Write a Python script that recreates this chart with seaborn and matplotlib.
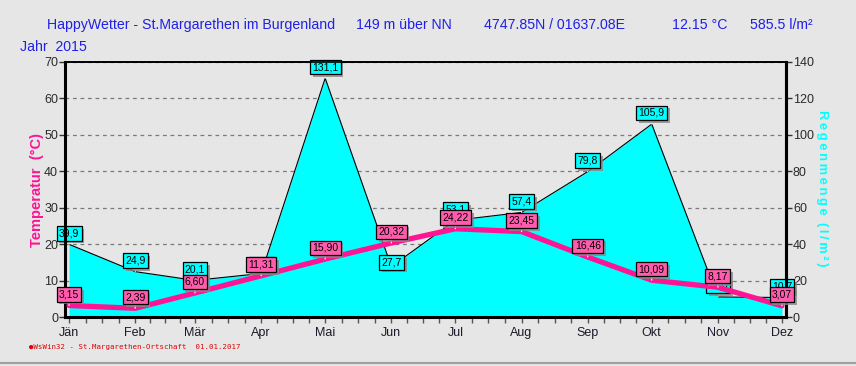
import matplotlib
matplotlib.use("Agg")
import matplotlib.pyplot as plt
import matplotlib.patheffects as pe
import pandas as pd
import seaborn as sns

# monthly values 2015
months = ["Jän", "Feb", "Mär", "Apr", "Mai", "Jun", "Jul", "Aug", "Sep", "Okt", "Nov", "Dez"]
month_day = [0, 31, 59, 90, 120, 151, 181, 212, 243, 273, 304, 334]
temperature = [3.15, 2.39, 6.60, 11.31, 15.90, 20.32, 24.22, 23.45, 16.46, 10.09, 8.17, 3.07]
rain = [39.9, 24.9, 20.1, 23.9, 131.1, 27.7, 53.1, 57.4, 79.8, 105.9, 11.0, 10.7]

BG = "#e6e6e6"
PINK = "#ff1493"
CYAN = "#00ffff"
BLUE = "#1f1fe6"
W, H = 856, 366

sns.set_theme(style="white")
plt.rcParams["font.family"] = ["Liberation Sans", "DejaVu Sans"]

df = pd.DataFrame({"day": month_day, "temp": temperature, "rain": rain})

fig = plt.figure(figsize=(W / 100, H / 100), dpi=100, facecolor=BG)
ax = fig.add_axes([65 / W, 1 - 317 / H, (786 - 65) / W, (317 - 62) / H])
ax2 = ax.twinx()
ax.set_zorder(ax2.get_zorder() + 1)
ax.patch.set_visible(False)
ax2.patch.set_facecolor(BG)

# rain area (right axis), behind
ax2.fill_between(df["day"], 0, df["rain"], color=CYAN, lw=0, zorder=2)
sns.lineplot(data=df, x="day", y="rain", ax=ax2, color="black", lw=0.8, zorder=3)

# temperature line (left axis)
sns.lineplot(data=df, x="day", y="temp", ax=ax, color=PINK, lw=3.8, zorder=3)

ax.set_xlim(-1.9, 335.9)
ax.set_ylim(0, 70)
ax2.set_ylim(0, 140)
ax.set_yticks(range(0, 71, 10))
ax2.set_yticks(range(0, 141, 20))
ax.set_xticks(month_day)
ax.set_xticklabels(months)
minor = []
for a, b in zip(month_day, month_day[1:] + [365]):
    minor += [a + (b - a) * k / 4 for k in (1, 2, 3)]
ax.set_xticks([m for m in minor if m < 335.9], minor=True)

ax2.grid(True, ls=(0, (3, 3)), color="#7a7a7a", lw=0.9)
ax2.xaxis.grid(True)
ax2.set_axisbelow(True)
ax.grid(False)

for a in (ax, ax2):
    a.set_xlabel("")
    a.set_ylabel("")
    for s in a.spines.values():
        s.set_color("black")
ax.spines["left"].set_linewidth(2.2)
ax.spines["bottom"].set_linewidth(2.2)
ax.spines["right"].set_linewidth(2.2)
ax.spines["top"].set_linewidth(1.2)
ax2.spines["right"].set_linewidth(2.2)

ax.tick_params(axis="y", which="major", direction="out", length=4, width=1, color="#333333",
               labelsize=9, labelcolor="#2a2a2a", pad=1, left=True)
ax2.tick_params(axis="y", direction="out", length=4, width=1, color="#333333",
                labelsize=9, labelcolor="#2a2a2a", pad=1, right=True)
ax.tick_params(axis="x", which="both", direction="out", length=4, width=1, color="#555555",
               labelsize=9, labelcolor="#1a1a2a", pad=3, bottom=True)

# value labels
shadow = [pe.SimplePatchShadow(offset=(2, -2), shadow_rgbFace="#888888", alpha=0.8), pe.Normal()]


def label(axis, x, y, text, face, dy=8):
    t = axis.annotate(text, (x, y), xytext=(0, dy), textcoords="offset points",
                      ha="center", va="center", fontsize=7.5, color="black", zorder=6,
                      bbox=dict(boxstyle="square,pad=0.22", fc=face, ec="black", lw=0.9),
                      arrowprops=dict(arrowstyle="-", color="white", lw=0.8, shrinkA=0, shrinkB=0))
    t.get_bbox_patch().set_path_effects(shadow)


rain_dy = {"Jun": 3, "Apr": 6.3}
for d, r, m in zip(month_day, rain, months):
    label(ax2, d, r, f"{r:.1f}".replace(".", ","), CYAN, dy=rain_dy.get(m, 8))
for d, t in zip(month_day, temperature):
    label(ax, d, t, f"{t:.2f}".replace(".", ","), "#ff5cad")

# axis titles
fig.text(37 / W, 1 - 190 / H, "Temperatur  (°C)", rotation=90, ha="center", va="center",
         color=PINK, fontsize=10.5, fontweight="bold")
fig.text(822 / W, 1 - 188 / H, "\u2009".join("Regenmenge") + "  (\u2009l\u2009/\u2009m\u2009²\u2009)",
         rotation=-90, ha="center", va="center", color=CYAN, fontsize=9.3, fontweight="bold")

# header
hdr = [(47, "HappyWetter - St.Margarethen im Burgenland"), (356, "149 m über NN"),
       (484, "4747.85N / 01637.08E"), (672, "12.15 °C"), (750, "585.5 l/m²")]
for x, s in hdr:
    fig.text(x / W, 1 - 25 / H, s, ha="left", va="center", color=BLUE, fontsize=10.2)
fig.text(20 / W, 1 - 47 / H, "Jahr  2015", ha="left", va="center", color=BLUE, fontsize=10.2)

# footer
fig.text(29 / W, 1 - 347 / H, "\u25cfWsWin32 - St.Margarethen-Ortschaft  01.01.2017",
         ha="left", va="center", color="#e00000", fontsize=5.3, family="DejaVu Sans Mono")
fig.add_artist(plt.Line2D([0, 1], [1 - 363 / H] * 2, color="#a0a0a0", lw=1.5))

fig.savefig("out.png", dpi=100, facecolor=BG)
